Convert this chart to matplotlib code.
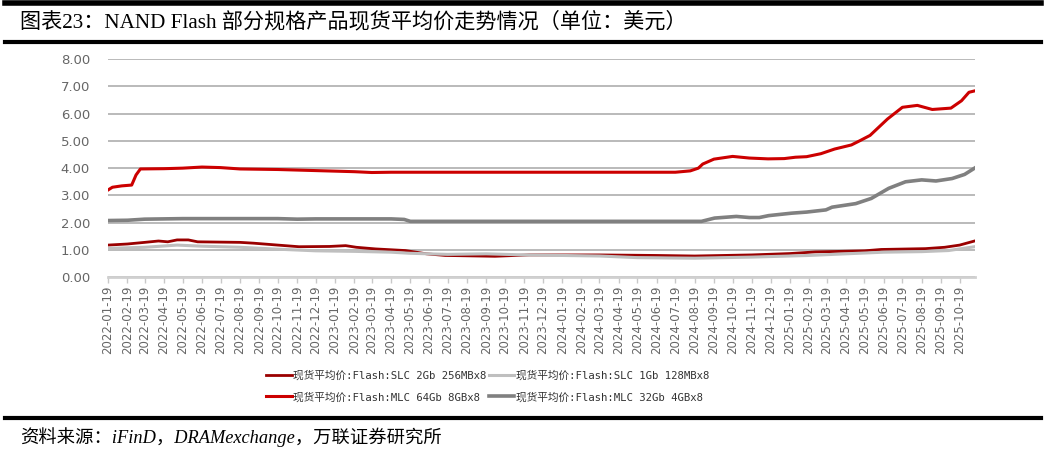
import matplotlib
matplotlib.use("Agg")
import matplotlib.pyplot as plt
import matplotlib.dates as mdates
import matplotlib.lines as mlines
import pandas as pd

# ---------------- data ----------------
slc2_dates = ["2022-01-19", "2022-02-19", "2022-03-19", "2022-04-10", "2022-04-25", "2022-05-10",
              "2022-05-28", "2022-06-12", "2022-08-19", "2022-09-10", "2022-10-19", "2022-11-22",
              "2023-01-10", "2023-02-05", "2023-02-22", "2023-03-25", "2023-05-12", "2023-06-15",
              "2023-07-15", "2023-10-03", "2023-11-27", "2024-03-19", "2024-06-19", "2024-08-19",
              "2024-11-19", "2025-01-19", "2025-03-01", "2025-05-19", "2025-06-15", "2025-08-25",
              "2025-09-25", "2025-10-19", "2025-11-12"]
slc2_vals = [1.18, 1.22, 1.28, 1.33, 1.30, 1.37,
             1.37, 1.30, 1.28, 1.25, 1.18, 1.12,
             1.13, 1.16, 1.10, 1.04, 0.98, 0.86,
             0.80, 0.77, 0.82, 0.82, 0.80, 0.78,
             0.82, 0.87, 0.93, 0.97, 1.02, 1.05,
             1.10, 1.18, 1.33]

slc1_dates = ["2022-01-19", "2022-03-19", "2022-05-10", "2022-06-19", "2022-08-19", "2022-10-19",
              "2022-12-19", "2023-02-19", "2023-04-19", "2023-05-19", "2023-07-19", "2023-09-19",
              "2023-11-19", "2024-01-19", "2024-03-19", "2024-05-19", "2024-08-19", "2024-11-19",
              "2025-02-19", "2025-04-19", "2025-06-19", "2025-08-19", "2025-10-01", "2025-11-12"]
slc1_vals = [1.06, 1.10, 1.18, 1.14, 1.10, 1.03,
             0.97, 0.95, 0.92, 0.88, 0.84, 0.86,
             0.82, 0.80, 0.78, 0.72, 0.70, 0.74,
             0.80, 0.86, 0.92, 0.94, 0.98, 1.12]

mlc64_dates = ["2022-01-19", "2022-01-26", "2022-02-10", "2022-02-26", "2022-03-05", "2022-03-12",
               "2022-04-19", "2022-05-19", "2022-06-19", "2022-07-19", "2022-08-19", "2022-10-19",
               "2022-12-19", "2023-02-19", "2023-03-19", "2023-04-19", "2024-07-19", "2024-08-12",
               "2024-08-25", "2024-09-01", "2024-09-19", "2024-10-19", "2024-11-15", "2024-12-15",
               "2025-01-10", "2025-01-28", "2025-02-15", "2025-03-10", "2025-04-01", "2025-04-28",
               "2025-05-12", "2025-05-28", "2025-06-25", "2025-07-19", "2025-08-12", "2025-09-05",
               "2025-10-05", "2025-10-22", "2025-11-03", "2025-11-12"]
mlc64_vals = [3.20, 3.30, 3.35, 3.38, 3.75, 3.97,
              3.98, 4.00, 4.04, 4.02, 3.97, 3.95,
              3.91, 3.87, 3.84, 3.85, 3.85, 3.90,
              4.00, 4.15, 4.33, 4.43, 4.37, 4.34,
              4.35, 4.40, 4.42, 4.53, 4.70, 4.85,
              5.01, 5.20, 5.80, 6.23, 6.30, 6.15,
              6.20, 6.47, 6.78, 6.83]

mlc32_dates = ["2022-01-19", "2022-02-19", "2022-03-19", "2022-05-19", "2022-10-19", "2022-11-19",
               "2022-12-19", "2023-04-19", "2023-05-10", "2023-05-20", "2024-08-30", "2024-09-20",
               "2024-10-25", "2024-11-15", "2024-12-01", "2024-12-16", "2025-01-22", "2025-02-15",
               "2025-03-18", "2025-03-28", "2025-05-05", "2025-05-30", "2025-06-27", "2025-07-24",
               "2025-08-19", "2025-09-11", "2025-10-07", "2025-10-27", "2025-11-12"]
mlc32_vals = [2.08, 2.09, 2.13, 2.15, 2.15, 2.13,
              2.14, 2.14, 2.12, 2.05, 2.05, 2.17,
              2.23, 2.19, 2.19, 2.26, 2.35, 2.39,
              2.47, 2.57, 2.70, 2.89, 3.26, 3.50,
              3.57, 3.53, 3.62, 3.77, 4.00]

series_labels = ["现货平均价:Flash:SLC 2Gb 256MBx8", "现货平均价:Flash:SLC 1Gb 128MBx8",
                 "现货平均价:Flash:MLC 64Gb 8GBx8", "现货平均价:Flash:MLC 32Gb 4GBx8"]
tick_labels = [f"{y}-{m:02d}-19" for y in range(2022, 2026) for m in range(1, 13)
               if (y, m) <= (2025, 10)]
y_ticks = [0, 1, 2, 3, 4, 5, 6, 7, 8]

title = "图表23：NAND Flash 部分规格产品现货平均价走势情况（单位：美元）"
source = "资料来源：iFinD，DRAMexchange，万联证券研究所"

# ---------------- figure ----------------
fig = plt.figure(figsize=(10.46, 4.5), dpi=100)
ax = fig.add_axes([0.1033, 0.3838, 0.829, 0.4851])

c_dark = "#9A0000"
c_light = "#BFBFBF"
c_red = "#CC0000"
c_gray = "#808080"

l1, = ax.plot(pd.to_datetime(slc2_dates), slc2_vals, color=c_dark, lw=2.0, zorder=3)
l2, = ax.plot(pd.to_datetime(slc1_dates), slc1_vals, color=c_light, lw=2.2, zorder=3)
l4, = ax.plot(pd.to_datetime(mlc32_dates), mlc32_vals, color=c_gray, lw=2.6, zorder=3)
l3, = ax.plot(pd.to_datetime(mlc64_dates), mlc64_vals, color=c_red, lw=2.2, zorder=4)

ax.set_ylim(0, 8)
ax.set_yticks(y_ticks)
ax.set_yticklabels([f"{v:.2f}" for v in y_ticks], fontsize=9.5, color="#666666",
                   family="DejaVu Sans")
ax.set_xlim(pd.Timestamp("2022-01-19"), pd.Timestamp("2025-11-13"))
ticks = pd.to_datetime(tick_labels)
ax.set_xticks(ticks)
ax.set_xticklabels(tick_labels, rotation=90, fontsize=8.5, color="#666666", family="DejaVu Sans")

ax.grid(axis="y", color="#B4B4B4", lw=1.3, zorder=0)
ax.set_axisbelow(True)
for s in ["top", "right", "left"]:
    ax.spines[s].set_visible(False)
ax.spines["bottom"].set_color("#D0D0D0")
ax.spines["bottom"].set_linewidth(2)
ax.tick_params(axis="y", length=0, pad=13)
ax.tick_params(axis="x", length=4, width=1, color="#C8C8C8", pad=2)

# legend
h = [l1, l3, l2, l4]
lab = [series_labels[0], series_labels[2], series_labels[1], series_labels[3]]
leg = fig.legend(h, lab, ncol=2, loc="upper left", bbox_to_anchor=(0.245, 0.199),
                 frameon=False, handlelength=2.4, handletextpad=0.15, columnspacing=0.2,
                 labelspacing=1.05,
                 prop={"family": ["DejaVu Sans Mono", "Noto Sans CJK SC"], "size": 7.7})
for t in leg.get_texts():
    t.set_color("#333333")

# title / source / rules
fig.text(0.019, 0.95, title, fontsize=15.2, va="center", ha="left",
         family=["Liberation Serif", "Noto Sans CJK SC"], color="black")
fig.text(0.019, 0.028, source, fontsize=13.2, va="center", ha="left", style="italic",
         family=["Liberation Serif", "Noto Sans CJK SC"], color="black")
for yy, lw in [(0.994, 4), (0.906, 3), (0.071, 3)]:
    fig.add_artist(mlines.Line2D([0.005, 0.995], [yy, yy], color="black", lw=lw,
                                 transform=fig.transFigure))

fig.savefig("out.png", dpi=100)
